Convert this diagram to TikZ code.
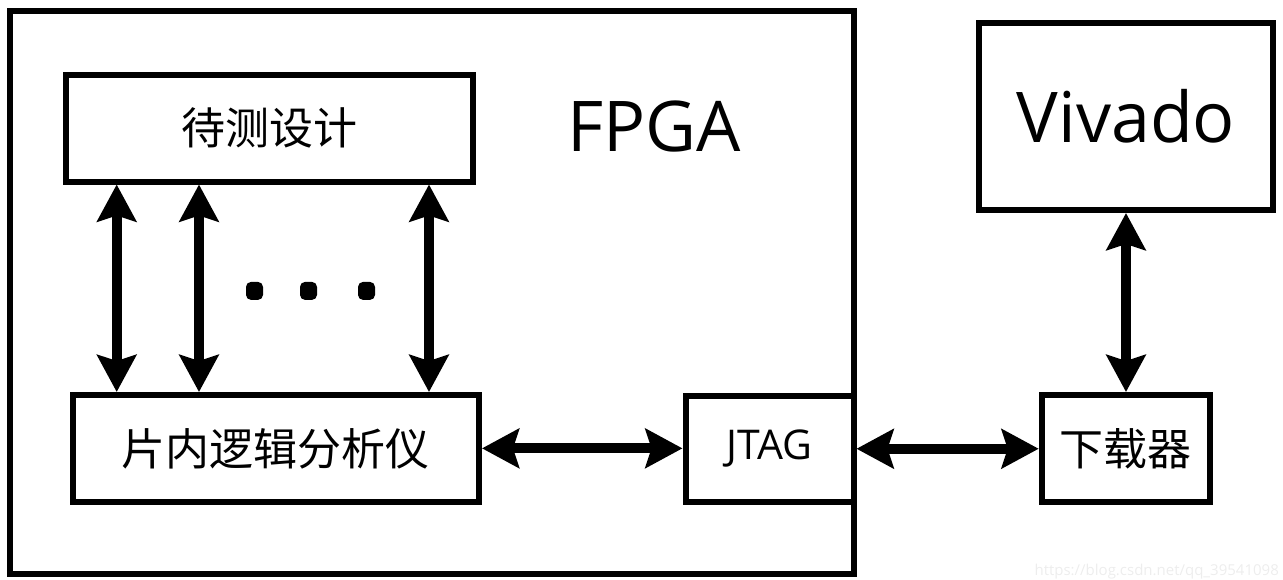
\documentclass[tikz,border=0pt]{standalone}
\usepackage{fontspec}
\setmainfont{Open Sans}
\newfontfamily\cjk{Noto Sans CJK SC}
\usetikzlibrary{arrows.meta}
\begin{document}
\begin{tikzpicture}[x=1pt,y=-1pt,
  box/.style={draw, line width=6pt, inner sep=0pt, rectangle},
  tipshape/.tip={Stealth[length=37pt,width=39pt,inset=6pt]},
  biarrow/.style={line width=10pt, {tipshape}-{tipshape}},
  dotmark/.style={fill, rounded corners=5pt, minimum width=17pt, minimum height=18pt, inner sep=0pt},
  cjklabel/.style={font=\cjk\fontsize{44}{50}\selectfont},
  biglatin/.style={font=\fontsize{70}{80}\selectfont}
]
\useasboundingbox (0,0) rectangle (1283,579);
\node[box, minimum width=843.5pt, minimum height=562.5pt] (fpga) at (431.75,292.25) {};
\node[biglatin] (fpgalabel) at (654,126.7) {FPGA};
\node[box, minimum width=406.5pt, minimum height=106.5pt, cjklabel] (dut) at (269.25,128.25) {待测设计};
\node[box, minimum width=406.5pt, minimum height=106.7pt, cjklabel] (ila) at (275.75,448.35) {片内逻辑分析仪};
\node[box, minimum width=168pt, minimum height=106.5pt, font=\fontsize{41}{48}\selectfont] (jtag) at (769.5,448.75) {JTAG};
\node[box, minimum width=294pt, minimum height=187pt, biglatin] (vivado) at (1126,116.5) {Vivado};
\node[box, minimum width=168.3pt, minimum height=107pt, cjklabel] (dl) at (1125.85,448.5) {下载器};

\coordinate (x1) at (116.7,0);
\coordinate (x2) at (199,0);
\coordinate (x3) at (429,0);
\draw[biarrow] (dut.south -| x1) -- (ila.north -| x1);
\draw[biarrow] (dut.south -| x2) -- (ila.north -| x2);
\draw[biarrow] (dut.south -| x3) -- (ila.north -| x3);
\draw[biarrow] (ila.east) -- (ila.east -| jtag.west);
\draw[biarrow] (jtag.east) -- (jtag.east -| dl.west);
\draw[biarrow] (vivado.south) -- (vivado.south |- dl.north);

\node[dotmark] (d1) at (254.5,290.9) {};
\node[dotmark] (d2) at (308.5,290.9) {};
\node[dotmark] (d3) at (366.5,290.9) {};

\node[text=black!7, font=\fontsize{15}{18}\selectfont, anchor=east, inner sep=0pt] (wm) at (1279,571.5) {https://blog.csdn.net/qq\_39541098};
\end{tikzpicture}
\end{document}
